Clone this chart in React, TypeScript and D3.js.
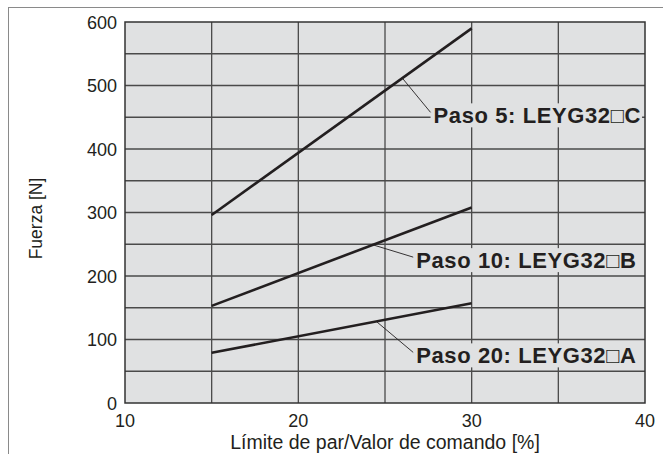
import React, { useEffect, useRef } from 'react';
import * as d3 from 'd3';

// values
const commandValues = [15, 30];
const seriesNames = ['Paso 5: LEYG32□C', 'Paso 10: LEYG32□B', 'Paso 20: LEYG32□A'];
const paso5 = [296, 590];
const paso10 = [153, 308];
const paso20 = [79, 157];
const labelAnchorX = [26, 24.3, 24.5];
const labelTextX = [27.8, 26.8, 26.8];
const labelTextY = [453, 225, 75];
const xTicks = [10, 20, 30, 40];
const yTicks = [0, 100, 200, 300, 400, 500, 600];

const W = 663;
const H = 454;
const FONT = '"Liberation Sans", Arial, Helvetica, sans-serif';
const INK = '#231f20';
const PLOT_BG = '#e0e1e2';

const App: React.FC = () => {
    const svgRef = useRef<SVGSVGElement>(null);

    useEffect(() => {
        if (!svgRef.current) return;
        const svg = d3.select(svgRef.current);
        svg.selectAll('*').remove();

        const margin = { top: 22, right: 18, bottom: 51, left: 125 };
        const x = d3.scaleLinear().domain([10, 40]).range([margin.left, W - margin.right]);
        const y = d3.scaleLinear().domain([0, 600]).range([H - margin.bottom, margin.top]);

        // outer frame (runs off the page at right and bottom)
        svg.append('rect')
            .attr('x', 8.5).attr('y', 7.5)
            .attr('width', W).attr('height', H)
            .attr('fill', 'white').attr('stroke', '#8a8a8a').attr('stroke-width', 1);

        // plot area
        svg.append('rect')
            .attr('x', x(10)).attr('y', y(600))
            .attr('width', x(40) - x(10)).attr('height', y(0) - y(600))
            .attr('fill', PLOT_BG);

        const grid = svg.append('g').attr('stroke', '#4a4a4a').attr('stroke-width', 1.3);
        grid.selectAll('.vx')
            .data(d3.range(15, 40, 5))
            .enter().append('line')
            .attr('x1', d => x(d)).attr('x2', d => x(d))
            .attr('y1', y(0)).attr('y2', y(600));
        grid.selectAll('.hy')
            .data(d3.range(50, 600, 50))
            .enter().append('line')
            .attr('x1', x(10)).attr('x2', x(40))
            .attr('y1', d => y(d)).attr('y2', d => y(d));

        // data lines
        const series = [paso5, paso10, paso20];
        const line = d3.line<number>()
            .x((_, i) => x(commandValues[i]))
            .y(d => y(d));
        svg.append('g').selectAll('path')
            .data(series)
            .enter().append('path')
            .attr('d', d => line(d))
            .attr('fill', 'none')
            .attr('stroke', INK)
            .attr('stroke-width', 2.6);

        // callout labels
        const valueAt = (s: number[], xv: number) =>
            s[0] + (s[1] - s[0]) * (xv - commandValues[0]) / (commandValues[1] - commandValues[0]);

        seriesNames.forEach((name, i) => {
            const g = svg.append('g');
            const tx = x(labelTextX[i]);
            const ty = y(labelTextY[i]);
            const bg = g.append('rect').attr('fill', PLOT_BG);
            const text = g.append('text')
                .attr('x', tx)
                .attr('y', ty + 7.8)
                .attr('font-family', FONT)
                .attr('font-weight', 'bold')
                .attr('font-size', 22)
                .attr('letter-spacing', 0.6)
                .attr('fill', INK)
                .text(name);
            const box = (text.node() as SVGTextElement).getBBox();
            bg.attr('x', box.x - 3).attr('y', ty - 12)
                .attr('width', box.width + 4).attr('height', 24);
            g.append('line')
                .attr('x1', x(labelAnchorX[i]))
                .attr('y1', y(valueAt(series[i], labelAnchorX[i])))
                .attr('x2', tx - 3)
                .attr('y2', ty - 3)
                .attr('stroke', INK)
                .attr('stroke-width', 0.9);
        });

        // plot border
        svg.append('rect')
            .attr('x', x(10)).attr('y', y(600))
            .attr('width', x(40) - x(10)).attr('height', y(0) - y(600))
            .attr('fill', 'none').attr('stroke', '#333').attr('stroke-width', 1.5);

        // tick labels
        svg.append('g').selectAll('text')
            .data(yTicks)
            .enter().append('text')
            .attr('x', x(10) - 8)
            .attr('y', d => y(d) + 6.5)
            .attr('text-anchor', 'end')
            .attr('font-family', FONT)
            .attr('font-size', 18)
            .attr('fill', INK)
            .text(d => d);
        svg.append('g').selectAll('text')
            .data(xTicks)
            .enter().append('text')
            .attr('x', d => x(d))
            .attr('y', y(0) + 24)
            .attr('text-anchor', 'middle')
            .attr('font-family', FONT)
            .attr('font-size', 18)
            .attr('fill', INK)
            .text(d => d);

        // axis titles
        svg.append('text')
            .attr('x', (x(10) + x(40)) / 2)
            .attr('y', y(0) + 46)
            .attr('text-anchor', 'middle')
            .attr('font-family', FONT)
            .attr('font-size', 19.5)
            .attr('fill', INK)
            .text('Límite de par/Valor de comando [%]');
        svg.append('text')
            .attr('transform', `translate(42,${(y(0) + y(600)) / 2 + 6}) rotate(-90)`)
            .attr('text-anchor', 'middle')
            .attr('font-family', FONT)
            .attr('font-size', 17.5)
            .attr('fill', INK)
            .text('Fuerza [N]');
    }, []);

    return (
        <svg
            ref={svgRef}
            width={W}
            height={H}
            style={{ position: 'absolute', left: 0, top: 0, background: 'white' }}
        />
    );
};

export default App;
